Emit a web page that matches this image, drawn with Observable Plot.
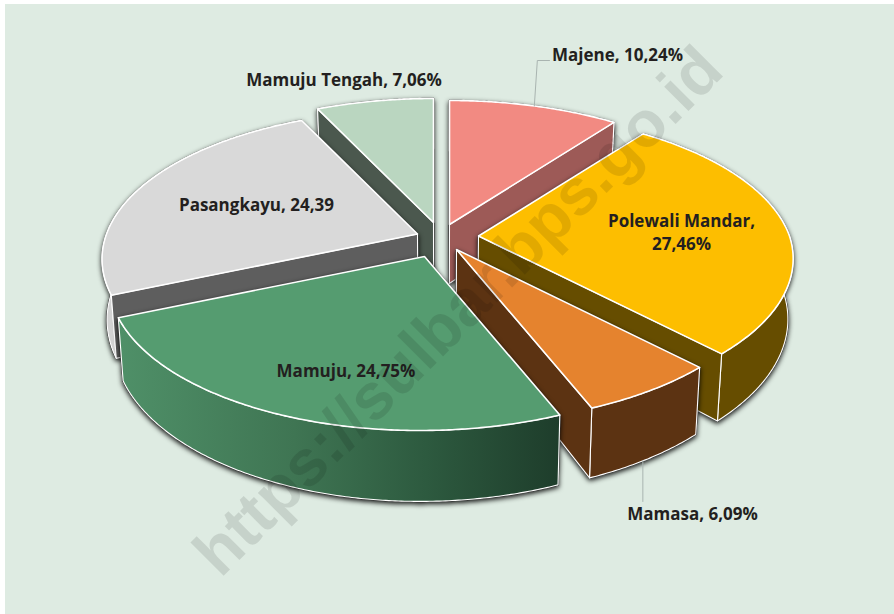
<!DOCTYPE html>
<html><head><meta charset="utf-8">
<script src="https://cdn.jsdelivr.net/npm/d3@7"></script>
<script src="https://cdn.jsdelivr.net/npm/@observablehq/plot@0.6"></script>
<style>
html,body{margin:0;padding:0;background:#fff;overflow:hidden}
#panel{position:absolute;left:0;top:0;width:894px;height:614px;overflow:hidden}
#panel:before{content:"";position:absolute;left:5px;top:4px;right:0;bottom:0;background:#deebe2}
#panel svg{position:absolute;left:0;top:0;background:none}
</style></head><body><div id="panel"></div>
<script>
// data
const sliceNames  = ["Majene","Polewali Mandar","Mamasa","Mamuju","Pasangkayu","Mamuju Tengah"];
const sliceValues = [10.24,27.46,6.09,24.75,24.39,7.06];
const sliceLabels = ["Majene, 10,24%","Polewali Mandar,\n27,46%","Mamasa, 6,09%","Mamuju, 24,75%","Pasangkayu, 24,39","Mamuju Tengah, 7,06%"];
const topColors  = ["#f28a82","#fdbe00","#e5832e","#559c70","#d9d9d9","#bad6c0"];
const sideColors = ["#9d5a57","#664d00","#5c3312","#3a7050","#5e5e5e","#4b584e"];
const rimColors  = ["#9d5a57","#664d00","#5c3312","url(#rimGrad)","#d2d2d2","#4b584e"];
// layout
const apexX = [449,478,456,424,417,433];
const apexY = [224,235.5,249,256,233.5,222];
const labelX = [617,681,692,345.5,256,343.5];
const labelY = [53,231,512,369,203,78];
const drawOrder = [5,0,4,1,2,3];
const R = 311, B = 144.8, K = 0.1678, DEPTH = 59, SHRINK = 0.015, VX = 440, SHEAR = 5;

const total = d3.sum(sliceValues);
let cum = 0;
const slices = sliceValues.map((v,i)=>{const a0=cum/total*360;cum+=v;return {i,a0,a1:cum/total*360};});
function proj(i,deg){const t=deg*Math.PI/180,u=Math.sin(t),v=Math.cos(t),w=1+K*v;
  const lean=SHEAR*Math.min(v,0)*(u>0?1:1+u);
  return {x:apexX[i]+R*u/w+lean,y:apexY[i]-B*v/w,w};}
function low(p){return {x:p.x+(VX-p.x)*SHRINK,y:p.y+DEPTH/p.w};}
function arcPts(s){const n=Math.ceil(s.a1-s.a0)*2,out=[];for(let k=0;k<=n;k++)out.push(proj(s.i,s.a0+(s.a1-s.a0)*k/n));return out;}
const apexOf=i=>({x:apexX[i],y:apexY[i],w:1});
const lineOpts=(extra)=>({x:"x",y:"y",curve:"linear-closed",strokeLinejoin:"round",...extra});

const marks=[()=>{const g=d3.create("svg:g");const lg=g.append("defs").append("linearGradient")
  .attr("id","rimGrad").attr("gradientUnits","userSpaceOnUse").attr("x1",118).attr("x2",558).attr("y1",0).attr("y2",0);
  [[0,"#4f9068"],[.4,"#3f7553"],[.7,"#2d5a3f"],[1,"#1e3d2b"]].forEach(([o,col])=>lg.append("stop").attr("offset",o).attr("stop-color",col));
  return g.node();}];

for(const i of drawOrder){
  const s=slices[i],A=arcPts(s),ap=apexOf(i);
  const rim=[...A,...A.slice().reverse().map(low)];
  const start=[ap,A[0],low(A[0]),low(ap)];
  const end=[ap,A[A.length-1],low(A[A.length-1]),low(ap)];
  const bottom=[low(ap),...A.map(low)];
  const body=[...bottom.map(p=>({...p,g:"b"})),...rim.map(p=>({...p,g:"r"})),...start.map(p=>({...p,g:"s"})),...end.map(p=>({...p,g:"e"}))];
  marks.push(Plot.line(body,lineOpts({z:"g",fill:"#333",stroke:"#333",strokeWidth:1.5,imageFilter:"drop-shadow(0.5px 2px 2.5px rgba(0,0,0,.9))"})));
  marks.push(Plot.line(rim,lineOpts({fill:rimColors[i],stroke:"#fff",strokeWidth:1.1})));
  // radial wall that faces the viewer
  const showStart=[4,5].includes(i), showEnd=[0,1,2].includes(i);
  if(showStart)marks.push(Plot.line(start,lineOpts({fill:sideColors[i],stroke:"#fff",strokeWidth:1.1})));
  if(showEnd)marks.push(Plot.line(end,lineOpts({fill:sideColors[i],stroke:"#fff",strokeWidth:1.1})));
  marks.push(Plot.line([ap,...A],lineOpts({fill:topColors[i],stroke:"#fff",strokeWidth:1.6})));
}
// leaders
const mid=i=>(slices[i].a0+slices[i].a1)/2;
const mTop=proj(0,mid(0));
marks.push(Plot.line([mTop,{x:mTop.x+3,y:labelY[0]+7},{x:labelX[0]-68,y:labelY[0]+7}],{x:"x",y:"y",stroke:"#a9b4b0",strokeWidth:1}));
const mLow=low(proj(2,mid(2)+1));
marks.push(Plot.line([mLow,{x:mLow.x,y:labelY[2]-11}],{x:"x",y:"y",stroke:"#a9b4b0",strokeWidth:1}));
// labels
marks.push(Plot.text(sliceLabels.map((t,i)=>({t,x:labelX[i],y:labelY[i]})),{x:"x",y:"y",text:"t",fill:"#231f20",fontWeight:700,fontSize:17,fontFamily:"'Open Sans'",lineHeight:1.35,textAnchor:"middle",lineAnchor:"middle"}));
// watermark
marks.push(Plot.text(["https://sulbar.bps.go.id"],{x:()=>458,y:()=>311,text:d=>d,rotate:-45,fontSize:65,fontWeight:700,fontFamily:"'Liberation Sans'",fill:"#000",fillOpacity:0.105,textAnchor:"middle",lineAnchor:"middle"}));

const chart=Plot.plot({width:894,height:614,margin:0,
  x:{domain:[0,894],range:[0,894],axis:null},
  y:{domain:[0,614],range:[0,614],axis:null},
  style:{background:"none",overflow:"visible"},
  marks});
document.getElementById("panel").append(chart);
</script></body></html>
